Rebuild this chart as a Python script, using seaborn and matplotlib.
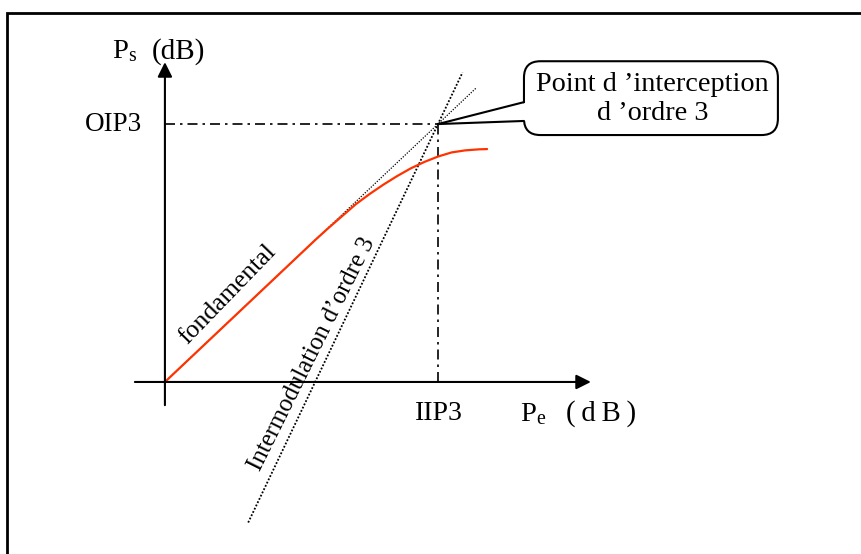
import matplotlib
matplotlib.use('Agg')
import matplotlib.pyplot as plt
import seaborn as sns
from matplotlib.patches import FancyBboxPatch, Polygon, Rectangle

sns.set_theme(style='white')
plt.rcParams['font.family'] = ['Liberation Serif', 'DejaVu Serif']
plt.rcParams['text.color'] = 'black'

# values (IIP3 and OIP3 placed at 10)
iip3 = 10.0
oip3 = 10.0
fund_x = [0, 11.4]
fund_y = [0, 11.4]
im3_x = [3.05, 10.9]
im3_y = [-5.45, 12.0]
# real (compressed) output curve
red_x = [0, 1, 2, 3, 4, 5, 5.5, 6, 6.5, 7, 7.5, 8, 8.5, 9, 9.5, 10, 10.5, 11, 11.5, 11.8]
red_y = [0, 1, 2, 3, 4, 5, 5.5, 5.98, 6.44, 6.9, 7.29, 7.65, 7.98, 8.28, 8.53, 8.74, 8.9, 8.98, 9.02, 9.03]

fig = plt.figure(figsize=(8.62, 5.54), dpi=100)
ax = fig.add_axes([0, 0, 1, 1])
ax.set_xlim(-6.04, 25.53)
ax.set_ylim(-6.67, 14.81)
ax.axis('off')

# frame of the original figure (only left and top visible)
fig.patches.append(Rectangle((0.008, -0.1), 1.2, 1.077, transform=fig.transFigure,
                             fill=False, lw=2, ec='black'))

# axes with arrows
ax.annotate('', xy=(15.6, 0), xytext=(-1.1, 0),
            arrowprops=dict(arrowstyle='-|>', mutation_scale=22, lw=1.5, color='black',
                            shrinkA=0, shrinkB=0))
ax.annotate('', xy=(0, 12.4), xytext=(0, -0.9),
            arrowprops=dict(arrowstyle='-|>', mutation_scale=22, lw=1.5, color='black',
                            shrinkA=0, shrinkB=0))

# guide lines to IP3
ax.plot([0, iip3], [oip3, oip3], color='black', lw=1.2, ls=(0, (6, 3, 1.5, 3)))
ax.plot([iip3, iip3], [0, oip3], color='black', lw=1.2, ls=(0, (6, 3, 1.5, 3)))

sns.lineplot(x=fund_x, y=fund_y, ax=ax, color='black', lw=0.9, ls=(0, (1, 1.2)))
sns.lineplot(x=im3_x, y=im3_y, ax=ax, color='black', lw=1.3, ls=(0, (1, 1)))
sns.lineplot(x=red_x, y=red_y, ax=ax, color='#ff3300', lw=1.6, sort=False)

# callout box
box = FancyBboxPatch((13.15 + 0.6, 9.61 + 0.6), 22.45 - 13.15 - 1.2, 12.4 - 9.61 - 1.2,
                     boxstyle='round,pad=0.6', mutation_aspect=1.06,
                     fc='white', ec='black', lw=1.5)
ax.add_patch(box)
ax.add_patch(Polygon([[iip3, oip3], [13.3, 10.85], [13.3, 10.12]], closed=True,
                     fc='white', ec='none', zorder=3))
ax.plot([iip3, 13.15], [oip3, 10.85], color='black', lw=1.5, zorder=4)
ax.plot([iip3, 13.15], [oip3, 10.12], color='black', lw=1.5, zorder=4)
ax.text(17.85, 10.98, "Point d \u2019interception\nd \u2019ordre 3", ha='center', va='center',
        fontsize=20.3, linespacing=1.2, zorder=5)

# labels
ts = '\u2009'
ax.text(-1.95, 12.55, r'$\mathregular{P_s}$', ha='left', va='baseline', fontsize=20.5)
ax.text(-0.5, 12.55, '(dB)', ha='left', va='baseline', fontsize=21)
ax.text(-1.9, oip3, 'OIP3', ha='center', va='center', fontsize=19.5)
ax.text(iip3 + 0.05, -1.22, 'IIP3', ha='center', va='center', fontsize=20)
ax.text(13.0, -1.5, r'$\mathregular{P_e}$', ha='left', va='baseline', fontsize=20.5)
ax.text(14.7, -1.5, ts.join('(dB)'), ha='left', va='baseline', fontsize=20.8)
ax.text(2.3, 3.4, 'fondamental', rotation=46, rotation_mode='anchor',
        ha='center', va='center', fontsize=18.5)
ax.text(5.38, 1.08, "Intermodulation d\u2019ordre 3", rotation=63.5, rotation_mode='anchor',
        ha='center', va='center', fontsize=17.8)

fig.savefig('out.png', dpi=100)
